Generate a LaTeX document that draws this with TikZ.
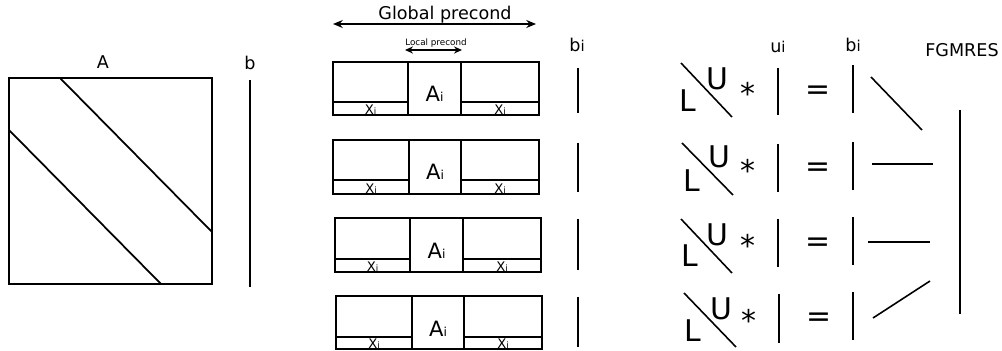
\documentclass[tikz,border=0pt]{standalone}
\usepackage{fontspec}
\setmainfont{DejaVu Sans}
\usetikzlibrary{arrows.meta}
\newcommand\myfs[1]{\fontsize{#1}{#1}\selectfont}
\newcommand\smi[1]{{\myfs{#1}i}}
\begin{document}
\begin{tikzpicture}[x=0.02cm,y=-0.02cm,
  every node/.style={inner sep=0pt,outer sep=0pt},
  ln/.style={line width=1pt},
  thin/.style={line width=0.9pt},
  bar/.style={line width=1.4pt},
  lbl/.style={font=\myfs{10},anchor=base},
  big/.style={font=\myfs{17},anchor=base},
  garr/.style={{Stealth[length=5.5pt,width=4.5pt]}-{Stealth[length=5.5pt,width=4.5pt]},line width=1pt},
  larr/.style={{Stealth[length=4.5pt,width=4pt]}-{Stealth[length=4.5pt,width=4pt]},line width=1.1pt}]
\useasboundingbox (0,0) rectangle (1002,351);

% ---- left: matrix A and vector b
\draw[ln] (9,78) rectangle (212,284);
\draw[ln] (60,78) -- (212,232);
\draw[ln] (9,130) -- (161,284);
\node[lbl] (labA) at (103,69) {A};
\node[lbl] (labb) at (250,70) {b};
\draw[bar] (250,80) -- (250,287);

% ---- middle: global / local precond
\node[lbl] (glob) at (445,20) {Global precond};
\coordinate (gl) at (333,24);
\coordinate (gr) at (536,24);
\draw[garr] (gl) -- (gr);
\node[font=\myfs{5},anchor=base] (loc) at (436,46) {Local precond};
\coordinate (ll) at (405,50);
\coordinate (lr) at (462,50);
\draw[larr] (ll) -- (lr);
\node[lbl] (labbi) at (577,52) {b\smi{8.5}};

\foreach \l/\t/\r/\b/\da/\db/\h/\by/\bz [count=\n] in
  {333/62/539/115/408/461/102/68/113,
   333/140/539/194/409/461/180/143/192,
   335/218/541/272/410/463/259/219/270,
   336/296/542/349/412/464/337/297/347}{
  \draw[ln] (\l,\t) rectangle (\r,\b);
  \draw[ln] (\da,\t) -- (\da,\b) (\db,\t) -- (\db,\b)
            (\l,\h) -- (\da,\h) (\db,\h) -- (\r,\h);
  \node[font=\myfs{12},anchor=base] (A\n) at ({(\da+\db)/2},\h) {A\smi{7}};
  \node[font=\myfs{7.5},anchor=base] (XL\n) at ({(\l+\da)/2},\b) {X\smi{5}};
  \node[font=\myfs{7.5},anchor=base] (XR\n) at ({(\db+\r)/2},\b) {X\smi{5}};
  \draw[bar] (578,\by) -- (578,\bz);
}

% ---- right: LU solves
\node[lbl] (labui) at (778,53) {u\smi{8.5}};
\node[lbl] (labbi2) at (853,52) {b\smi{8.5}};
\node[lbl] (fg) at (962,57) {FGMRES};
\draw[ln] (960,110) -- (960,314);

\foreach \ax/\ay/\bx/\byy/\ux/\ub/\lx/\lb/\sx/\sy/\uu/\ua/\uz/\ex/\ey/\ba/\bz/\px/\py/\qx/\qy [count=\n] in
  {681/63/732/117/717/90/688/112/748/88/778/68/115/818/88/65/113/871/77/922/130,
   682/143/733/195/719/168/692/192/748/165/778/144/192/818/165/142/190/872/164/933/164,
   681/219/732/273/717/246/690/267/748/240/778/219/267/818/240/217/265/868/242/930/242,
   684/293/736/347/721/320/693/342/749/315/779/294/343/819/315/292/340/873/318/930/281}{
  \draw[thin] (\ax,\ay) -- (\bx,\byy);
  \node[big] (U\n) at (\ux,\ub) {U};
  \node[big] (L\n) at (\lx,\lb) {L};
  \node[big] (S\n) at (\sx,\sy+17) {*};
  \draw[bar] (\uu,\ua) -- (\uu,\uz);
  \node[big] (E\n) at (\ex,\ey+11.4) {=};
  \draw[bar] (853,\ba) -- (853,\bz);
  \draw[thin] (\px,\py) -- (\qx,\qy);
}
\end{tikzpicture}
\end{document}
